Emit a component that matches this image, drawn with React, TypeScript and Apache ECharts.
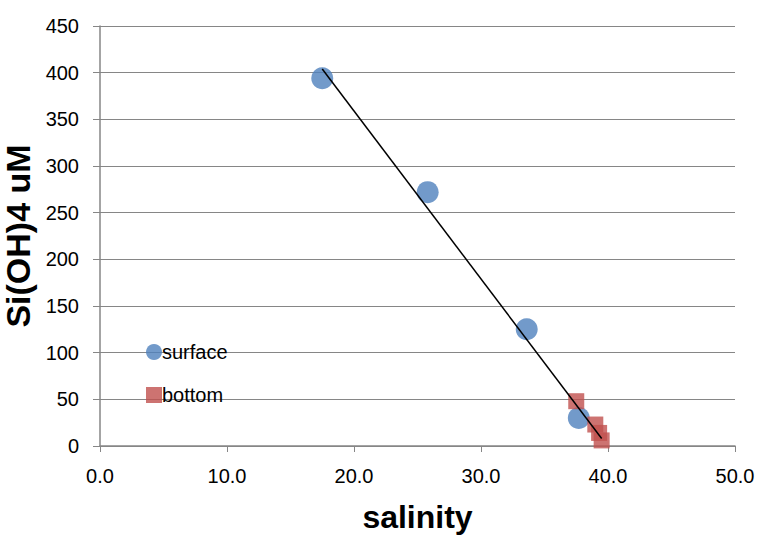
import React, { useEffect, useRef } from "react";
import * as echarts from "echarts";

const surfaceSalinity = [17.5, 25.8, 33.6, 37.7];
const surfaceSi = [394, 272, 125, 30];
const bottomSalinity = [37.5, 39.0, 39.3, 39.5];
const bottomSi = [48, 23, 14, 6];
const trendSalinity = [17.5, 39.5];
const trendSi = [404, 8];
const xTicks = [0, 10, 20, 30, 40, 50];
const yTicks = [0, 50, 100, 150, 200, 250, 300, 350, 400, 450];

const FONT = "'Liberation Sans', Arial, sans-serif";

export default function App() {
  const ref = useRef<HTMLDivElement>(null);
  useEffect(() => {
    const chart = echarts.init(ref.current!, null, { renderer: "svg" });
    chart.setOption({
      animation: false,
      backgroundColor: "#ffffff",
      textStyle: { fontFamily: FONT },
      grid: { left: 100, right: 23, top: 26, bottom: 90, outerBoundsMode: "none", containLabel: false },
      legend: {
        orient: "vertical",
        left: 141,
        top: 337,
        itemGap: 23,
        itemWidth: 16,
        itemHeight: 16,
        textStyle: { fontSize: 20, color: "#000", fontFamily: FONT, padding: [0, 0, 0, -5] },
        data: [
          { name: "surface", icon: "circle" },
          { name: "bottom", icon: "rect" },
        ],
      },
      xAxis: {
        type: "value",
        min: xTicks[0],
        max: xTicks[xTicks.length - 1],
        interval: 10,
        name: "salinity",
        nameLocation: "middle",
        nameGap: 55,
        nameTextStyle: { fontSize: 32, fontWeight: "bold", color: "#000", fontFamily: FONT },
        axisLine: { show: true, lineStyle: { color: "#868686", width: 1.5 } },
        axisTick: { show: true, length: 6, inside: false, lineStyle: { color: "#868686" } },
        axisLabel: { fontSize: 20, color: "#000", margin: 20, formatter: (v: number) => v.toFixed(1) },
        splitLine: { show: false },
      },
      yAxis: {
        type: "value",
        min: yTicks[0],
        max: yTicks[yTicks.length - 1],
        interval: 50,
        name: "Si(OH)4 uM",
        nameLocation: "middle",
        nameGap: 45,
        nameTextStyle: { fontSize: 34, fontWeight: "bold", color: "#000", fontFamily: FONT },
        axisLine: { show: true, lineStyle: { color: "#868686", width: 1.5 } },
        axisTick: { show: true, length: 7, lineStyle: { color: "#868686" } },
        axisLabel: { fontSize: 20, color: "#000", margin: 21 },
        splitLine: { show: true, lineStyle: { color: "#868686", width: 1.2 } },
      },
      series: [
        {
          name: "surface",
          type: "scatter",
          symbol: "circle",
          symbolSize: 22,
          itemStyle: { color: "#4F81BD" },
          data: surfaceSalinity.map((x, i) => [x, surfaceSi[i]]),
          z: 2,
        },
        {
          name: "bottom",
          type: "scatter",
          symbol: "rect",
          symbolSize: 16,
          itemStyle: { color: "#C0504D" },
          data: bottomSalinity.map((x, i) => [x, bottomSi[i]]),
          z: 3,
        },
        {
          name: "trend",
          type: "line",
          symbol: "none",
          lineStyle: { color: "#000", width: 1.5 },
          data: trendSalinity.map((x, i) => [x, trendSi[i]]),
          z: 4,
        },
      ],
    });
    return () => chart.dispose();
  }, []);
  return <div ref={ref} style={{ width: 758, height: 536, position: "absolute", left: 0, top: 0 }} />;
}
